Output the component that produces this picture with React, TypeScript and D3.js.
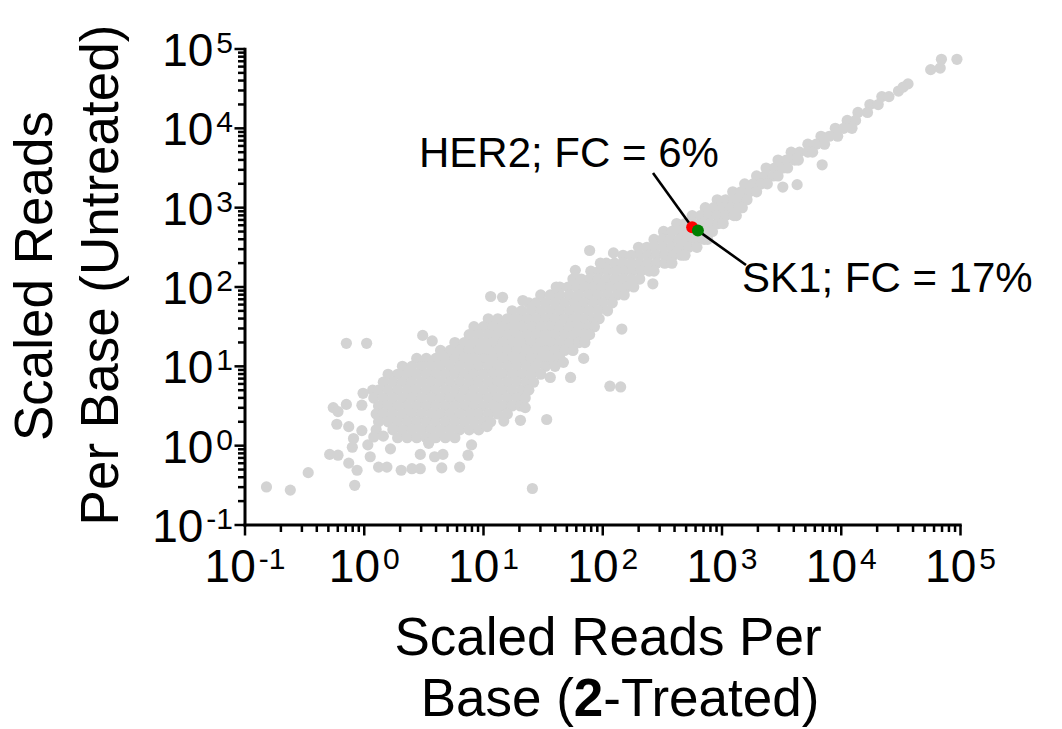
import React from 'react';
import * as d3 from 'd3';

// Axis decades (exponents of 10) used for ticks and labels
const tickExponents = [-1, 0, 1, 2, 3, 4, 5];
const minorMultipliers = [2, 3, 4, 5, 6, 7, 8, 9];

// Gray cloud:
// [log10 untreated, [log10 2-treated, ...]]
const cloudRows: [number, number[]][] = [
  [4.4, [4.34, 4.40]],
  [4.3, [4.24, 4.31]],
  [4.2, [4.14, 4.22]],
  [4.1, [4.05, 4.12]],
  [4.0, [3.95, 4.02, 4.09]],
  [3.9, [3.83, 3.90, 3.97]],
  [3.8, [3.72, 3.79, 3.86]],
  [3.7, [3.58, 3.65, 3.72, 3.76]],
  [3.6, [3.47, 3.54, 3.61, 3.64]],
  [3.5, [3.37, 3.44, 3.51, 3.55]],
  [3.4, [3.29, 3.36, 3.43, 3.47]],
  [3.3, [3.19, 3.26, 3.33, 3.38]],
  [3.2, [3.09, 3.16, 3.23, 3.29]],
  [3.1, [2.96, 3.03, 3.10, 3.17, 3.21]],
  [3.0, [2.86, 2.93, 3.00, 3.07, 3.14, 3.17]],
  [2.9, [2.75, 2.82, 2.89, 2.96, 3.03, 3.10, 3.12]],
  [2.8, [2.62, 2.69, 2.76, 2.83, 2.90, 2.97, 3.01]],
  [2.7, [2.51, 2.58, 2.65, 2.72, 2.79, 2.86, 2.92]],
  [2.6, [2.43, 2.50, 2.57, 2.64, 2.71, 2.78, 2.85, 2.88]],
  [2.5, [2.30, 2.37, 2.44, 2.51, 2.58, 2.65, 2.72, 2.79]],
  [2.4, [2.17, 2.24, 2.31, 2.38, 2.45, 2.52, 2.59, 2.66, 2.69]],
  [2.3, [2.03, 2.10, 2.17, 2.24, 2.31, 2.38, 2.45, 2.52, 2.58]],
  [2.2, [1.90, 1.97, 2.04, 2.11, 2.18, 2.25, 2.32, 2.39, 2.43]],
  [2.1, [1.75, 1.82, 1.89, 1.96, 2.03, 2.10, 2.17, 2.24, 2.31]],
  [2.0, [1.64, 1.71, 1.78, 1.85, 1.92, 1.99, 2.06, 2.13, 2.20, 2.26]],
  [1.9, [1.48, 1.56, 1.64, 1.72, 1.80, 1.88, 1.96, 2.04, 2.12, 2.18]],
  [1.8, [1.38, 1.44, 1.52, 1.60, 1.68, 1.76, 1.84, 1.92, 2.00, 2.08]],
  [1.7, [1.24, 1.32, 1.40, 1.48, 1.56, 1.64, 1.72, 1.80, 1.88, 1.96, 2.04]],
  [1.6, [1.04, 1.12, 1.20, 1.28, 1.36, 1.44, 1.52, 1.60, 1.68, 1.76, 1.84, 1.92, 1.97]],
  [1.5, [0.92, 1.00, 1.08, 1.16, 1.24, 1.32, 1.40, 1.48, 1.56, 1.64, 1.72, 1.80, 1.88, 1.93]],
  [1.4, [0.88, 0.96, 1.04, 1.12, 1.20, 1.28, 1.36, 1.44, 1.52, 1.60, 1.68, 1.76, 1.84, 1.89]],
  [1.3, [0.76, 0.84, 0.92, 1.00, 1.08, 1.16, 1.24, 1.32, 1.40, 1.48, 1.56, 1.64, 1.72, 1.80, 1.85]],
  [1.2, [0.64, 0.72, 0.80, 0.88, 0.96, 1.04, 1.12, 1.20, 1.28, 1.36, 1.44, 1.52, 1.60, 1.68, 1.75]],
  [1.1, [0.44, 0.52, 0.60, 0.68, 0.76, 0.84, 0.92, 1.00, 1.08, 1.16, 1.24, 1.32, 1.40, 1.48, 1.56, 1.64]],
  [1.0, [0.32, 0.40, 0.48, 0.56, 0.64, 0.72, 0.80, 0.88, 0.96, 1.04, 1.12, 1.20, 1.28, 1.36, 1.44, 1.52, 1.60]],
  [0.9, [0.20, 0.28, 0.36, 0.44, 0.52, 0.60, 0.68, 0.76, 0.84, 0.92, 1.00, 1.08, 1.16, 1.24, 1.32, 1.40, 1.48]],
  [0.8, [0.16, 0.24, 0.32, 0.40, 0.48, 0.56, 0.64, 0.72, 0.80, 0.88, 0.96, 1.04, 1.12, 1.20, 1.28, 1.36, 1.42]],
  [0.7, [0.07, 0.12, 0.20, 0.28, 0.36, 0.44, 0.52, 0.60, 0.68, 0.76, 0.84, 0.92, 1.00, 1.08, 1.16, 1.24, 1.32, 1.38]],
  [0.6, [0.08, 0.16, 0.24, 0.32, 0.40, 0.48, 0.56, 0.64, 0.72, 0.80, 0.88, 0.96, 1.04, 1.12, 1.20, 1.28, 1.35]],
  [0.5, [0.12, 0.20, 0.28, 0.36, 0.44, 0.52, 0.60, 0.68, 0.76, 0.84, 0.92, 1.00, 1.08, 1.16, 1.24, 1.31]],
  [0.4, [0.10, 0.16, 0.24, 0.32, 0.40, 0.48, 0.56, 0.64, 0.72, 0.80, 0.88, 0.96, 1.04, 1.12, 1.20]],
  [0.3, [0.12, 0.20, 0.28, 0.36, 0.44, 0.52, 0.60, 0.68, 0.76, 0.84, 0.92, 1.00, 1.06]],
  [0.2, [0.24, 0.32, 0.40, 0.48, 0.56, 0.64, 0.72, 0.80, 0.88, 0.96]],
  [0.1, [0.28, 0.36, 0.44, 0.52, 0.60, 0.68, 0.76]],
];

// Scattered gray genes: [log10 2-treated, log10 untreated]
const scatterLog: [number, number][] = [
  [-0.26, 0.48], [-0.22, 0.43], [-0.15, 0.52], [-0.02, 0.51], [-0.01, 0.66],
  [-0.23, 0.27], [-0.13, 0.24], [-0.09, 0.09], [-0.10, -0.02], [-0.29, -0.11],
  [-0.22, -0.12], [-0.13, -0.22], [-0.06, -0.31], [-0.08, -0.50], [-0.47, -0.34],
  [-0.62, -0.56], [-0.82, -0.52], [0.03, 0.01], [0.05, -0.14], [0.12, -0.27],
  [0.19, -0.27], [0.22, -0.04], [0.31, -0.31], [0.40, -0.29], [0.47, -0.29],
  [0.47, -0.11], [0.54, 0.03], [0.59, -0.14], [0.65, -0.28], [0.66, -0.11],
  [0.80, -0.27], [0.87, -0.12], [0.90, 0.01], [1.17, 0.31], [1.31, 0.32],
  [1.35, 0.48], [1.41, -0.54], [1.53, 0.33], [1.03, 0.24], [-0.15, 1.29],
  [0.02, 1.29], [0.49, 1.39], [0.57, 1.32], [1.89, 2.46], [2.09, 2.43],
  [1.98, 2.30], [1.77, 2.21], [1.61, 2.00], [1.06, 1.88], [1.16, 1.87],
  [1.33, 1.83], [2.16, 1.47], [1.84, 1.10], [1.67, 1.05], [1.56, 0.86],
  [1.73, 0.86], [2.06, 0.75], [2.15, 0.74], [2.42, 2.04], [3.84, 3.54],
  [3.63, 3.29], [3.51, 3.26], [4.75, 4.74], [4.84, 4.87], [4.97, 4.87],
  [4.83, 4.76], [4.56, 4.56], [4.48, 4.47], [4.52, 4.52], [0.10, 0.20],
  [0.16, 0.12], [-0.02, 0.19], [0.08, 0.11],
];

// Highlighted genes
const highlightNames = ['HER2', 'SK1'];
const highlightTreated = [562, 628];
const highlightUntreated = [565, 514];
const highlightFC = ['6%', '17%'];
const highlightColors = ['#ff0000', '#008000'];

const FONT = '"Liberation Sans", Arial, Helvetica, sans-serif';
const W = 1062;
const H = 729;

export default function App() {
  const x = d3.scaleLog().domain([0.1, 1e5]).range([245, 960.5]);
  const y = d3.scaleLog().domain([0.1, 1e5]).range([525, 49]);

  const gray: [number, number][] = [];
  cloudRows.forEach(([ly, xs]) => xs.forEach((lx) => gray.push([Math.pow(10, lx), Math.pow(10, ly)])));
  scatterLog.forEach(([lx, ly]) => gray.push([Math.pow(10, lx), Math.pow(10, ly)]));

  const majors = tickExponents.map((e) => Math.pow(10, e));
  const minors: number[] = [];
  for (let i = 0; i < tickExponents.length - 1; i++) {
    for (const m of minorMultipliers) minors.push(m * Math.pow(10, tickExponents[i]));
  }

  const x0 = x(0.1);
  const y0 = y(0.1);

  const her2 = { px: x(highlightTreated[0]), py: y(highlightUntreated[0]) };
  const sk1 = { px: x(highlightTreated[1]), py: y(highlightUntreated[1]) };

  const label = (e: number, px: number, py: number, anchor: string, key: string) => (
    <text key={key} x={px} y={py} textAnchor={anchor} fontFamily={FONT} fontSize={46} fill="#000">
      <tspan>10</tspan>
      <tspan dx={3} dy={-13} fontSize={30}>{e < 0 ? '-' + Math.abs(e) : String(e)}</tspan>
    </text>
  );

  return (
    <div style={{ position: 'fixed', left: 0, top: 0, width: W, height: H, overflow: 'hidden', background: '#fff' }}>
      <svg width={W} height={H} viewBox={`0 0 ${W} ${H}`} style={{ display: 'block' }}>
        <rect x={0} y={0} width={W} height={H} fill="#fff" />
        {/* gray points */}
        <g fill="#d3d3d3">
          {gray.map((d, i) => (
            <circle key={i} cx={x(d[0])} cy={y(d[1])} r={5.6} />
          ))}
        </g>

        {/* leader lines */}
        <line x1={653} y1={173} x2={her2.px} y2={her2.py} stroke="#000" strokeWidth={2.6} />
        <line x1={sk1.px} y1={sk1.py} x2={746} y2={265} stroke="#000" strokeWidth={2.6} />

        {/* highlighted points */}
        {highlightNames.map((n, i) => (
          <circle key={n} cx={x(highlightTreated[i])} cy={y(highlightUntreated[i])} r={6} fill={highlightColors[i]} />
        ))}

        {/* annotations */}
        <text x={419} y={167} fontFamily={FONT} fontSize={42} fill="#000">
          {`${highlightNames[0]}; FC = ${highlightFC[0]}`}
        </text>
        <text x={742} y={292} fontFamily={FONT} fontSize={42} fill="#000">
          {`${highlightNames[1]}; FC = ${highlightFC[1]}`}
        </text>

        {/* axes */}
        <g stroke="#000" strokeWidth={2.5}>
          {minors.map((v, i) => (
            <line key={'xm' + i} x1={x(v)} x2={x(v)} y1={y0} y2={y0 + 7} />
          ))}
          {majors.map((v, i) => (
            <line key={'xM' + i} x1={x(v)} x2={x(v)} y1={y0} y2={y0 + 10.5} />
          ))}
          {minors.map((v, i) => (
            <line key={'ym' + i} x1={x0} x2={x0 - 7} y1={y(v)} y2={y(v)} />
          ))}
          {majors.map((v, i) => (
            <line key={'yM' + i} x1={x0} x2={x0 - 10.5} y1={y(v)} y2={y(v)} />
          ))}
        </g>
        <line x1={x0} x2={x0} y1={y(1e5) - 1.2} y2={y0 + 1.5} stroke="#000" strokeWidth={3} />
        <line x1={x0 - 1.5} x2={x(1e5) + 1.2} y1={y0} y2={y0} stroke="#000" strokeWidth={3} />

        {/* tick labels */}
        {tickExponents.map((e) => label(e, x(Math.pow(10, e)), 582, 'middle', 'xl' + e))}
        {tickExponents.map((e) => label(e, 233, y(Math.pow(10, e)) + 17, 'end', 'yl' + e))}

        {/* axis titles */}
        <text x={608} y={655} textAnchor="middle" fontFamily={FONT} fontSize={53} fill="#000">
          Scaled Reads Per
        </text>
        <text x={620} y={716} textAnchor="middle" fontFamily={FONT} fontSize={53} fill="#000">
          <tspan>Base (</tspan>
          <tspan fontWeight="bold">2</tspan>
          <tspan>-Treated)</tspan>
        </text>
        <text transform="translate(52,276) rotate(-90)" textAnchor="middle" fontFamily={FONT} fontSize={53} fill="#000">
          Scaled Reads
        </text>
        <text transform="translate(118,275) rotate(-90)" textAnchor="middle" fontFamily={FONT} fontSize={53} fill="#000">
          Per Base (Untreated)
        </text>
      </svg>
    </div>
  );
}
